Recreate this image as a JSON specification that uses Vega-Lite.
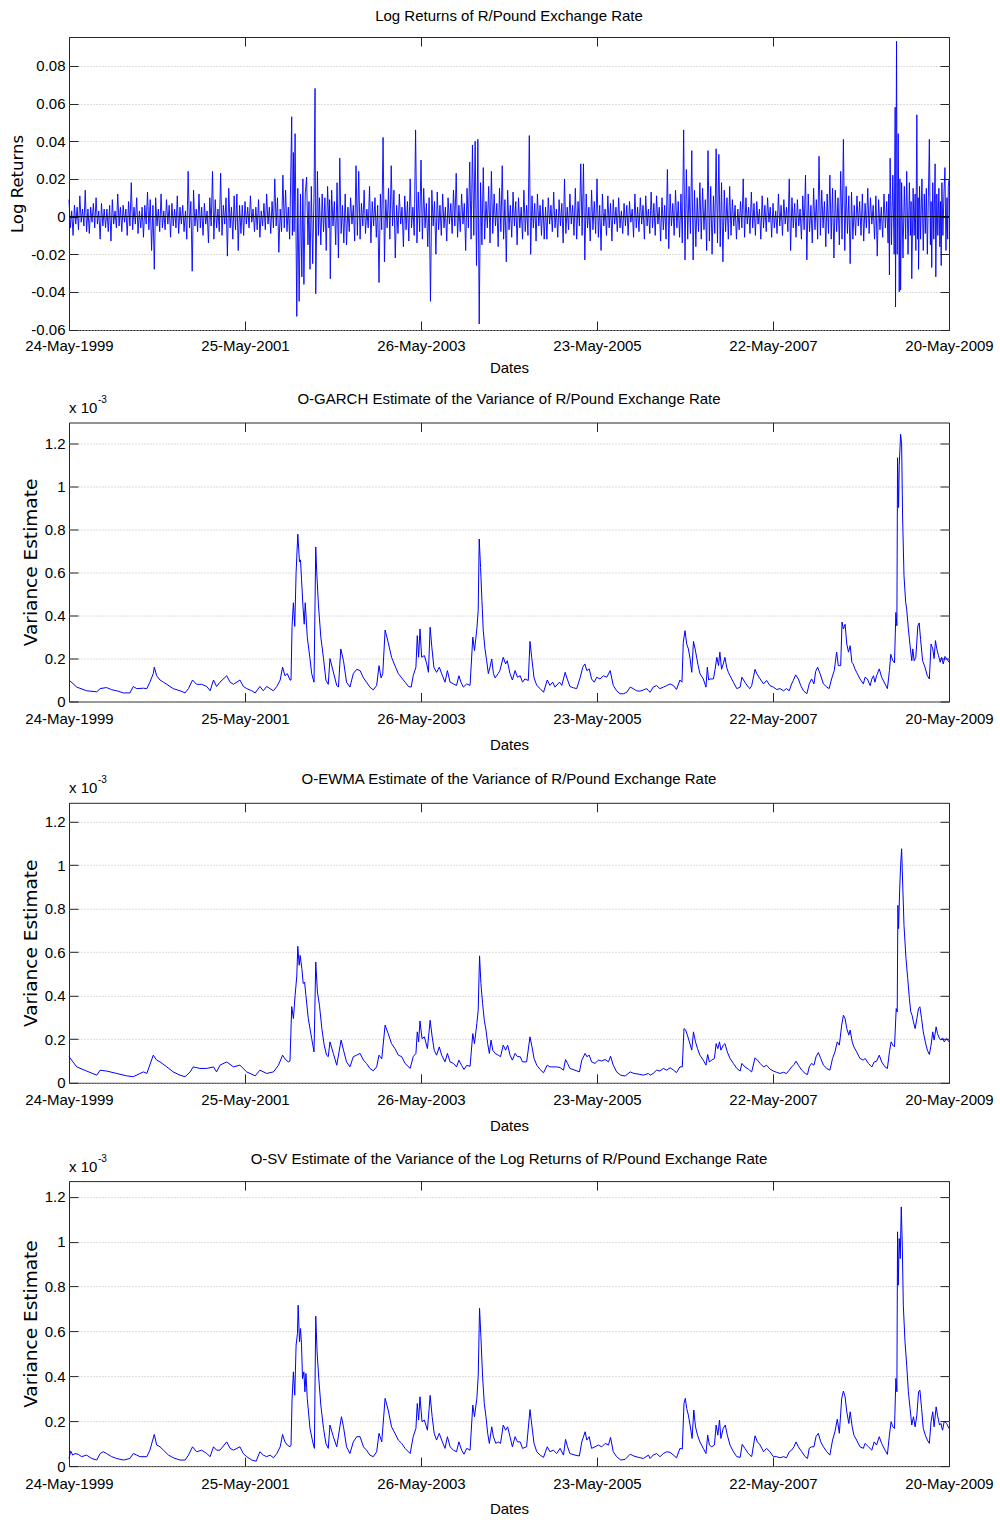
{
  "$schema": "https://vega.github.io/schema/vega-lite/v6.json",
  "background": "white",
  "padding": {"left": 9, "top": 8, "right": 3, "bottom": 5},
  "config": {
    "font": "Liberation Sans",
    "view": {"stroke": "#262626", "strokeWidth": 1},
    "axis": {
      "labelFont": "Liberation Sans", "labelFontSize": 15, "labelColor": "#000",
      "titleFontWeight": "normal", "titleColor": "#000",
      "domain": false, "grid": false, "tickColor": "#262626", "tickSize": -9, "tickWidth": 1,
      "labelOverlap": false, "labelFlush": false, "labelBound": false,
      "gridColor": "#b8b8b8", "gridDash": [1, 2], "gridWidth": 1
    },
    "axisX": {"titleFont": "Liberation Sans", "titleFontSize": 15, "labelPadding": 19, "titlePadding": 10.5},
    "axisY": {"titleFont": "DejaVu Sans", "titleFontSize": 18.5, "labelPadding": 13, "titlePadding": 4},
    "title": {"font": "Liberation Sans", "fontSize": 15, "fontWeight": "normal", "color": "#000", "frame": "group", "anchor": "middle", "baseline": "alphabetic"},
    "text": {"font": "Liberation Sans", "color": "#000"}
  },
  "datasets": {
    "ret": [
      {"t":0,"r":0.009},{"t":4,"r":-0.006},{"t":8,"r":0.003},{"t":12,"r":-0.010},{"t":16,"r":0.006},{"t":20,"r":-0.004},{"t":24,"r":0.005},{"t":28,"r":-0.007},{"t":32,"r":0.011},{"t":36,"r":-0.003},{"t":40,"r":0.004},{"t":44,"r":-0.005},{"t":48,"r":0.014},{"t":52,"r":-0.008},{"t":56,"r":0.004},{"t":60,"r":-0.009},{"t":64,"r":0.005},{"t":68,"r":-0.003},{"t":72,"r":0.007},{"t":76,"r":-0.006},{"t":80,"r":0.010},{"t":84,"r":-0.004},{"t":88,"r":0.003},{"t":92,"r":-0.012},{"t":96,"r":0.007},{"t":100,"r":-0.005},{"t":104,"r":0.004},{"t":108,"r":-0.006},{"t":112,"r":0.004},{"t":116,"r":-0.008},{"t":120,"r":0.006},{"t":124,"r":-0.013},{"t":128,"r":0.009},{"t":132,"r":-0.004},{"t":136,"r":0.003},{"t":140,"r":-0.006},{"t":144,"r":0.012},{"t":148,"r":-0.005},{"t":152,"r":0.005},{"t":156,"r":-0.008},{"t":160,"r":0.006},{"t":164,"r":-0.003},{"t":168,"r":0.004},{"t":172,"r":-0.010},{"t":176,"r":0.008},{"t":180,"r":-0.005},{"t":184,"r":0.018},{"t":188,"r":-0.007},{"t":192,"r":0.005},{"t":196,"r":-0.004},{"t":200,"r":0.010},{"t":204,"r":-0.009},{"t":208,"r":0.003},{"t":212,"r":-0.006},{"t":216,"r":0.005},{"t":220,"r":-0.011},{"t":224,"r":0.006},{"t":228,"r":-0.004},{"t":232,"r":0.013},{"t":236,"r":-0.007},{"t":240,"r":0.009},{"t":244,"r":-0.018},{"t":248,"r":0.006},{"t":252,"r":-0.028},
      {"t":256,"r":0.010},{"t":260,"r":-0.005},{"t":264,"r":0.004},{"t":268,"r":-0.008},{"t":272,"r":0.012},{"t":276,"r":-0.006},{"t":280,"r":0.003},{"t":284,"r":-0.007},{"t":288,"r":0.009},{"t":292,"r":-0.004},{"t":296,"r":0.006},{"t":300,"r":-0.011},{"t":304,"r":0.007},{"t":308,"r":-0.005},{"t":312,"r":0.004},{"t":316,"r":-0.006},{"t":320,"r":0.011},{"t":324,"r":-0.009},{"t":328,"r":0.005},{"t":332,"r":-0.004},{"t":336,"r":0.006},{"t":340,"r":-0.008},{"t":344,"r":0.003},{"t":348,"r":-0.012},{"t":352,"r":0.024},{"t":356,"r":-0.006},{"t":360,"r":0.008},{"t":364,"r":-0.029},{"t":368,"r":0.014},{"t":372,"r":-0.005},{"t":376,"r":0.004},{"t":380,"r":-0.008},{"t":384,"r":0.012},{"t":388,"r":-0.006},{"t":392,"r":0.005},{"t":396,"r":-0.010},{"t":400,"r":0.007},{"t":404,"r":-0.004},{"t":408,"r":0.003},{"t":412,"r":-0.014},{"t":416,"r":0.010},{"t":420,"r":-0.005},{"t":424,"r":0.024},{"t":428,"r":-0.012},{"t":432,"r":0.009},{"t":436,"r":-0.006},{"t":440,"r":0.004},{"t":444,"r":-0.008},{"t":448,"r":0.023},{"t":452,"r":-0.010},{"t":456,"r":0.006},{"t":460,"r":-0.004},{"t":464,"r":0.010},{"t":468,"r":-0.021},{"t":472,"r":0.015},{"t":476,"r":-0.006},{"t":480,"r":0.005},{"t":484,"r":-0.012},{"t":488,"r":0.011},{"t":492,"r":-0.007},{"t":496,"r":0.012},{"t":500,"r":-0.018},{"t":504,"r":0.006},{"t":508,"r":-0.009},
      {"t":512,"r":0.006},{"t":516,"r":-0.010},{"t":520,"r":0.008},{"t":524,"r":-0.004},{"t":528,"r":0.005},{"t":532,"r":-0.006},{"t":536,"r":0.011},{"t":540,"r":-0.003},{"t":544,"r":0.004},{"t":548,"r":-0.008},{"t":552,"r":0.005},{"t":556,"r":-0.007},{"t":560,"r":0.009},{"t":564,"r":-0.011},{"t":568,"r":0.003},{"t":572,"r":-0.005},{"t":576,"r":0.007},{"t":580,"r":-0.007},{"t":584,"r":0.012},{"t":588,"r":-0.004},{"t":592,"r":0.005},{"t":596,"r":-0.009},{"t":600,"r":0.008},{"t":604,"r":-0.006},{"t":608,"r":0.020},{"t":612,"r":-0.005},{"t":616,"r":0.010},{"t":620,"r":-0.019},{"t":624,"r":0.004},{"t":628,"r":-0.008},{"t":632,"r":0.022},{"t":636,"r":-0.006},{"t":640,"r":0.014},{"t":644,"r":-0.008},{"t":648,"r":0.005},{"t":652,"r":-0.012},
      {"t":658,"r":0.053},{"t":660,"r":-0.010},{"t":663,"r":0.034},{"t":665,"r":-0.008},{"t":668,"r":0.044},{"t":673,"r":-0.053},{"t":676,"r":0.015},{"t":680,"r":-0.045},{"t":684,"r":0.012},{"t":688,"r":-0.032},{"t":691,"r":0.020},{"t":694,"r":-0.036},{"t":698,"r":0.012},{"t":702,"r":0.021},{"t":706,"r":-0.015},{"t":709,"r":0.008},{"t":712,"r":-0.028},{"t":716,"r":0.016},{"t":720,"r":-0.025},{"t":724,"r":0.012},{"t":727,"r":0.068},{"t":729,"r":-0.041},{"t":734,"r":0.024},{"t":737,"r":-0.010},{"t":740,"r":0.010},{"t":744,"r":-0.015},{"t":748,"r":0.012},{"t":752,"r":-0.008},{"t":756,"r":0.010},{"t":760,"r":-0.018},{"t":764,"r":0.016},{"t":768,"r":-0.006},{"t":770,"r":0.009},{"t":772,"r":-0.033},{"t":776,"r":0.014},{"t":780,"r":-0.005},{"t":784,"r":0.008},{"t":788,"r":-0.015},{"t":792,"r":0.018},{"t":796,"r":-0.022},{"t":800,"r":0.031},{"t":804,"r":-0.009},{"t":808,"r":0.006},{"t":812,"r":-0.014},
      {"t":816,"r":0.012},{"t":820,"r":-0.015},{"t":824,"r":0.005},{"t":828,"r":-0.008},{"t":832,"r":0.010},{"t":836,"r":-0.004},{"t":840,"r":0.006},{"t":844,"r":-0.013},{"t":848,"r":0.027},{"t":852,"r":-0.010},{"t":856,"r":0.024},{"t":860,"r":-0.012},{"t":864,"r":0.007},{"t":868,"r":-0.005},{"t":872,"r":0.014},{"t":876,"r":-0.009},{"t":880,"r":0.004},{"t":884,"r":-0.006},{"t":888,"r":0.016},{"t":892,"r":-0.014},{"t":896,"r":0.008},{"t":900,"r":-0.005},{"t":904,"r":0.010},{"t":908,"r":-0.011},{"t":912,"r":0.006},{"t":916,"r":-0.035},{"t":920,"r":0.012},{"t":924,"r":-0.007},{"t":928,"r":0.042},{"t":932,"r":-0.024},{"t":936,"r":0.009},{"t":940,"r":-0.006},{"t":944,"r":0.015},{"t":948,"r":-0.012},{"t":952,"r":0.027},{"t":956,"r":-0.005},{"t":960,"r":0.014},{"t":964,"r":-0.022},{"t":968,"r":0.006},{"t":972,"r":-0.009},{"t":976,"r":0.012},{"t":980,"r":-0.004},{"t":984,"r":0.005},{"t":988,"r":-0.016},{"t":992,"r":0.011},{"t":996,"r":-0.007},{"t":1000,"r":0.008},{"t":1004,"r":-0.013},{"t":1008,"r":0.020},{"t":1012,"r":-0.006},{"t":1016,"r":0.005},{"t":1020,"r":-0.010},{"t":1024,"r":0.046},{"t":1028,"r":-0.014},{"t":1032,"r":0.013},{"t":1036,"r":-0.008},{"t":1040,"r":0.030},{"t":1044,"r":-0.012},{"t":1048,"r":0.015},{"t":1052,"r":-0.006},{"t":1056,"r":0.007},{"t":1060,"r":-0.016},{"t":1064,"r":0.010},{"t":1068,"r":-0.045},{"t":1072,"r":0.014},{"t":1076,"r":-0.005},{"t":1080,"r":0.008},{"t":1084,"r":-0.020},{"t":1088,"r":0.013},{"t":1092,"r":-0.007},{"t":1096,"r":0.006},{"t":1100,"r":-0.010},
      {"t":1104,"r":0.012},{"t":1108,"r":-0.006},{"t":1112,"r":0.005},{"t":1116,"r":-0.013},{"t":1120,"r":0.010},{"t":1124,"r":-0.004},{"t":1128,"r":0.007},{"t":1132,"r":-0.009},{"t":1136,"r":0.014},{"t":1140,"r":-0.005},{"t":1144,"r":0.023},{"t":1148,"r":-0.011},{"t":1152,"r":0.006},{"t":1156,"r":-0.008},{"t":1160,"r":0.012},{"t":1164,"r":-0.004},{"t":1168,"r":0.007},{"t":1172,"r":-0.018},{"t":1176,"r":0.015},{"t":1180,"r":-0.006},{"t":1184,"r":0.029},{"t":1188,"r":-0.012},{"t":1192,"r":0.038},{"t":1196,"r":-0.010},{"t":1200,"r":0.040},{"t":1204,"r":-0.026},{"t":1208,"r":0.041},{"t":1212,"r":-0.057},{"t":1216,"r":0.018},{"t":1220,"r":-0.015},{"t":1224,"r":0.026},{"t":1228,"r":-0.012},{"t":1232,"r":0.008},{"t":1236,"r":-0.006},{"t":1240,"r":0.016},{"t":1244,"r":-0.014},{"t":1248,"r":0.024},{"t":1252,"r":-0.009},{"t":1256,"r":0.012},{"t":1260,"r":-0.005},{"t":1264,"r":0.007},{"t":1268,"r":-0.016},{"t":1272,"r":0.015},{"t":1276,"r":-0.008},{"t":1280,"r":0.027},{"t":1284,"r":-0.012},{"t":1288,"r":0.009},{"t":1292,"r":-0.024},{"t":1296,"r":0.014},{"t":1300,"r":-0.007},{"t":1304,"r":0.006},{"t":1308,"r":-0.011},{"t":1312,"r":0.013},{"t":1316,"r":-0.005},{"t":1320,"r":0.008},{"t":1324,"r":-0.015},{"t":1328,"r":0.010},{"t":1332,"r":-0.006},{"t":1336,"r":0.005},{"t":1340,"r":-0.012},{"t":1344,"r":0.014},{"t":1348,"r":-0.008},{"t":1352,"r":0.006},{"t":1356,"r":-0.010},{"t":1360,"r":0.043},{"t":1364,"r":-0.020},{"t":1368,"r":0.011},{"t":1372,"r":-0.006},{"t":1376,"r":0.007},{"t":1380,"r":-0.013},{"t":1384,"r":0.012},{"t":1388,"r":-0.005},{"t":1392,"r":0.006},{"t":1396,"r":-0.010},{"t":1400,"r":0.009},{"t":1404,"r":-0.012},
      {"t":1408,"r":0.005},{"t":1412,"r":-0.012},{"t":1416,"r":0.010},{"t":1420,"r":-0.004},{"t":1424,"r":0.006},{"t":1428,"r":-0.008},{"t":1432,"r":0.013},{"t":1436,"r":-0.006},{"t":1440,"r":0.004},{"t":1444,"r":-0.011},{"t":1448,"r":0.009},{"t":1452,"r":-0.005},{"t":1456,"r":0.007},{"t":1460,"r":-0.014},{"t":1464,"r":0.020},{"t":1468,"r":-0.009},{"t":1472,"r":0.005},{"t":1476,"r":-0.007},{"t":1480,"r":0.012},{"t":1484,"r":-0.004},{"t":1488,"r":0.006},{"t":1492,"r":-0.010},{"t":1496,"r":0.015},{"t":1500,"r":-0.012},{"t":1504,"r":0.008},{"t":1508,"r":-0.005},{"t":1512,"r":0.028},{"t":1516,"r":-0.010},{"t":1520,"r":0.028},{"t":1524,"r":-0.023},{"t":1528,"r":0.012},{"t":1532,"r":-0.006},{"t":1536,"r":0.005},{"t":1540,"r":-0.013},{"t":1544,"r":0.014},{"t":1548,"r":-0.007},{"t":1552,"r":0.008},{"t":1556,"r":-0.009},{"t":1560,"r":0.020},{"t":1564,"r":-0.011},{"t":1568,"r":0.006},{"t":1572,"r":-0.018},{"t":1576,"r":0.012},{"t":1580,"r":-0.005},{"t":1584,"r":0.004},{"t":1588,"r":-0.010},{"t":1592,"r":0.011},{"t":1596,"r":-0.006},{"t":1600,"r":0.007},{"t":1604,"r":-0.013},{"t":1608,"r":0.009},{"t":1612,"r":-0.004},{"t":1616,"r":0.005},{"t":1620,"r":-0.008},{"t":1624,"r":0.010},{"t":1628,"r":-0.006},{"t":1632,"r":0.003},{"t":1636,"r":-0.009},{"t":1640,"r":0.007},{"t":1644,"r":-0.005},{"t":1648,"r":0.006},{"t":1652,"r":-0.010},{"t":1656,"r":0.008},{"t":1660,"r":-0.003},{"t":1664,"r":0.004},{"t":1668,"r":-0.011},{"t":1672,"r":0.012},{"t":1676,"r":-0.006},{"t":1680,"r":0.005},{"t":1684,"r":-0.008},{"t":1688,"r":0.010},{"t":1692,"r":-0.004},{"t":1696,"r":0.006},{"t":1700,"r":-0.012},{"t":1704,"r":0.011},{"t":1708,"r":-0.005},{"t":1712,"r":0.004},{"t":1716,"r":-0.009},{"t":1720,"r":0.013},{"t":1724,"r":-0.006},{"t":1728,"r":0.007},{"t":1732,"r":-0.010},{"t":1736,"r":0.011},{"t":1740,"r":-0.004},{"t":1744,"r":0.005},{"t":1748,"r":-0.013},{"t":1752,"r":0.010},{"t":1756,"r":-0.007},{"t":1760,"r":0.006},{"t":1764,"r":-0.012},{"t":1768,"r":0.025},{"t":1772,"r":-0.017},{"t":1776,"r":0.012},{"t":1780,"r":-0.005},{"t":1784,"r":0.007},{"t":1788,"r":-0.010},{"t":1792,"r":0.014},{"t":1796,"r":-0.006},
      {"t":1800,"r":0.008},{"t":1804,"r":-0.011},{"t":1808,"r":0.012},{"t":1812,"r":-0.014},{"t":1816,"r":0.046},{"t":1820,"r":-0.023},{"t":1824,"r":0.025},{"t":1828,"r":-0.012},{"t":1832,"r":0.016},{"t":1836,"r":-0.009},{"t":1840,"r":0.035},{"t":1844,"r":-0.023},{"t":1848,"r":0.014},{"t":1852,"r":-0.016},{"t":1856,"r":0.010},{"t":1860,"r":-0.008},{"t":1864,"r":0.018},{"t":1868,"r":-0.012},{"t":1872,"r":0.015},{"t":1876,"r":-0.007},{"t":1880,"r":0.009},{"t":1884,"r":-0.018},{"t":1888,"r":0.035},{"t":1892,"r":-0.013},{"t":1896,"r":0.016},{"t":1900,"r":-0.020},{"t":1904,"r":0.011},{"t":1908,"r":-0.009},{"t":1912,"r":0.036},{"t":1916,"r":-0.014},{"t":1920,"r":0.033},{"t":1924,"r":-0.016},{"t":1928,"r":0.018},{"t":1932,"r":-0.024},{"t":1936,"r":0.014},{"t":1940,"r":-0.008},{"t":1944,"r":0.010},{"t":1948,"r":-0.012},{"t":1952,"r":0.016},{"t":1956,"r":-0.010},
      {"t":1960,"r":0.009},{"t":1964,"r":-0.005},{"t":1968,"r":0.006},{"t":1972,"r":-0.012},{"t":1976,"r":0.004},{"t":1980,"r":-0.007},{"t":1984,"r":0.008},{"t":1988,"r":-0.006},{"t":1992,"r":0.020},{"t":1996,"r":-0.011},{"t":2000,"r":0.010},{"t":2004,"r":-0.004},{"t":2008,"r":0.005},{"t":2012,"r":-0.009},{"t":2016,"r":0.013},{"t":2020,"r":-0.006},{"t":2024,"r":0.007},{"t":2028,"r":-0.010},{"t":2032,"r":0.008},{"t":2036,"r":-0.004},{"t":2040,"r":0.004},{"t":2044,"r":-0.012},{"t":2048,"r":0.011},{"t":2052,"r":-0.006},{"t":2056,"r":0.006},{"t":2060,"r":-0.008},{"t":2064,"r":0.010},{"t":2068,"r":-0.003},{"t":2072,"r":0.005},{"t":2076,"r":-0.011},{"t":2080,"r":0.007},{"t":2084,"r":-0.006},{"t":2088,"r":0.003},{"t":2092,"r":-0.009},{"t":2096,"r":0.012},{"t":2100,"r":-0.005},{"t":2104,"r":0.006},{"t":2108,"r":-0.010},{"t":2112,"r":0.009},{"t":2116,"r":-0.004},{"t":2120,"r":0.005},{"t":2124,"r":-0.008},{"t":2128,"r":0.020},{"t":2132,"r":-0.018},{"t":2136,"r":0.010},{"t":2140,"r":-0.006},{"t":2144,"r":0.007},{"t":2148,"r":-0.011},{"t":2152,"r":0.009},{"t":2156,"r":-0.005},{"t":2160,"r":0.004},{"t":2164,"r":-0.012},{"t":2168,"r":0.011},{"t":2172,"r":-0.007},
      {"t":2176,"r":0.022},{"t":2180,"r":-0.023},{"t":2184,"r":0.012},{"t":2188,"r":-0.008},{"t":2192,"r":0.006},{"t":2196,"r":-0.014},{"t":2200,"r":0.015},{"t":2204,"r":-0.007},{"t":2208,"r":0.009},{"t":2212,"r":-0.012},{"t":2216,"r":0.032},{"t":2220,"r":-0.010},{"t":2224,"r":0.014},{"t":2228,"r":-0.006},{"t":2232,"r":0.008},{"t":2236,"r":-0.016},{"t":2240,"r":0.012},{"t":2244,"r":-0.009},{"t":2248,"r":0.022},{"t":2252,"r":-0.012},{"t":2256,"r":0.015},{"t":2260,"r":-0.022},{"t":2264,"r":0.014},{"t":2268,"r":-0.008},{"t":2272,"r":0.010},{"t":2276,"r":-0.015},{"t":2280,"r":0.024},{"t":2284,"r":-0.012},{"t":2288,"r":0.041},{"t":2292,"r":-0.018},{"t":2296,"r":0.016},{"t":2300,"r":-0.009},{"t":2304,"r":0.011},{"t":2308,"r":-0.025},{"t":2312,"r":0.013},{"t":2316,"r":-0.012},
      {"t":2320,"r":0.006},{"t":2324,"r":-0.010},{"t":2328,"r":0.011},{"t":2332,"r":-0.005},{"t":2336,"r":0.008},{"t":2340,"r":-0.010},{"t":2344,"r":0.012},{"t":2348,"r":-0.013},{"t":2352,"r":0.007},{"t":2356,"r":-0.006},{"t":2360,"r":0.015},{"t":2364,"r":-0.009},{"t":2368,"r":0.010},{"t":2372,"r":-0.004},{"t":2376,"r":0.006},{"t":2380,"r":-0.012},{"t":2384,"r":0.011},{"t":2388,"r":-0.021},{"t":2392,"r":0.009},{"t":2396,"r":-0.007},{"t":2400,"r":0.005},{"t":2404,"r":-0.011},{"t":2408,"r":0.012},{"t":2412,"r":-0.006},{"t":2416,"r":0.008},{"t":2420,"r":-0.014},
      {"t":2422,"r":0.012},{"t":2424,"r":-0.031},{"t":2426,"r":0.031},{"t":2430,"r":-0.015},{"t":2434,"r":0.022},{"t":2438,"r":-0.020},{"t":2441,"r":0.058},{"t":2442,"r":-0.048},{"t":2445,"r":0.093},{"t":2447,"r":-0.020},{"t":2450,"r":0.044},{"t":2453,"r":-0.040},{"t":2455,"r":0.020},{"t":2457,"r":-0.039},{"t":2460,"r":0.018},{"t":2464,"r":-0.022},{"t":2468,"r":0.016},{"t":2472,"r":-0.012},{"t":2475,"r":0.024},{"t":2479,"r":-0.020},{"t":2483,"r":0.018},{"t":2486,"r":-0.010},{"t":2488,"r":0.008},{"t":2490,"r":-0.033},{"t":2494,"r":0.015},{"t":2497,"r":-0.010},{"t":2500,"r":0.012},{"t":2502,"r":-0.018},{"t":2505,"r":0.054},{"t":2507,"r":-0.012},{"t":2509,"r":0.010},{"t":2510,"r":-0.028},{"t":2513,"r":0.016},{"t":2516,"r":-0.012},{"t":2520,"r":0.020},{"t":2524,"r":-0.018},{"t":2527,"r":0.012},{"t":2530,"r":-0.009},{"t":2533,"r":0.015},{"t":2536,"r":-0.020},{"t":2539,"r":0.010},{"t":2542,"r":0.041},{"t":2545,"r":-0.015},{"t":2547,"r":0.008},{"t":2549,"r":-0.027},{"t":2552,"r":0.018},{"t":2555,"r":-0.012},{"t":2559,"r":0.028},{"t":2561,"r":-0.032},{"t":2564,"r":0.012},{"t":2567,"r":-0.010},{"t":2570,"r":0.015},{"t":2573,"r":-0.016},{"t":2575,"r":0.008},{"t":2577,"r":-0.026},{"t":2579,"r":0.018},{"t":2582,"r":-0.010},{"t":2585,"r":0.012},{"t":2588,"r":0.026},{"t":2591,"r":-0.018},{"t":2594,"r":0.010},{"t":2596,"r":-0.012},{"t":2598,"r":0.016},{"t":2600,"r":0.020}
    ],
    "garch": [
      {"t":0,"v":0.10},{"t":23,"v":0.067},{"t":52,"v":0.05},{"t":82,"v":0.045},{"t":92,"v":0.06},{"t":111,"v":0.065},{"t":126,"v":0.055},{"t":141,"v":0.05},{"t":161,"v":0.04},{"t":180,"v":0.04},{"t":190,"v":0.07},{"t":200,"v":0.06},{"t":220,"v":0.062},{"t":230,"v":0.06},{"t":239,"v":0.09},{"t":249,"v":0.13},{"t":252,"v":0.16},{"t":259,"v":0.12},{"t":269,"v":0.1},{"t":279,"v":0.09},{"t":289,"v":0.08},{"t":308,"v":0.06},{"t":328,"v":0.05},{"t":343,"v":0.04},{"t":353,"v":0.06},{"t":365,"v":0.10},{"t":377,"v":0.08},{"t":392,"v":0.08},{"t":407,"v":0.07},{"t":417,"v":0.05},{"t":427,"v":0.10},{"t":436,"v":0.07},{"t":446,"v":0.09},{"t":466,"v":0.12},{"t":476,"v":0.09},{"t":486,"v":0.08},{"t":505,"v":0.10},{"t":515,"v":0.07},{"t":525,"v":0.06},{"t":540,"v":0.05},{"t":550,"v":0.04},{"t":564,"v":0.07},{"t":574,"v":0.05},{"t":584,"v":0.07},{"t":594,"v":0.06},{"t":604,"v":0.05},{"t":614,"v":0.07},{"t":624,"v":0.10},{"t":631,"v":0.16},{"t":638,"v":0.12},{"t":645,"v":0.13},{"t":653,"v":0.10},{"t":656,"v":0.10},{"t":659,"v":0.35},{"t":663,"v":0.46},{"t":667,"v":0.35},{"t":671,"v":0.60},{"t":676,"v":0.78},{"t":681,"v":0.65},{"t":684,"v":0.66},{"t":687,"v":0.57},{"t":691,"v":0.45},{"t":695,"v":0.36},{"t":698,"v":0.46},{"t":704,"v":0.30},{"t":712,"v":0.20},{"t":717,"v":0.13},{"t":724,"v":0.09},{"t":729,"v":0.72},{"t":732,"v":0.60},{"t":737,"v":0.45},{"t":744,"v":0.30},{"t":752,"v":0.20},{"t":759,"v":0.10},{"t":766,"v":0.08},
      {"t":771,"v":0.20},{"t":791,"v":0.075},{"t":796,"v":0.067},{"t":803,"v":0.245},{"t":811,"v":0.19},{"t":820,"v":0.09},{"t":830,"v":0.067},{"t":840,"v":0.13},{"t":850,"v":0.15},{"t":860,"v":0.144},{"t":870,"v":0.11},{"t":879,"v":0.09},{"t":889,"v":0.067},{"t":899,"v":0.054},{"t":909,"v":0.075},{"t":916,"v":0.167},{"t":922,"v":0.11},{"t":927,"v":0.13},{"t":934,"v":0.333},{"t":943,"v":0.276},{"t":953,"v":0.206},{"t":963,"v":0.167},{"t":973,"v":0.13},{"t":983,"v":0.11},{"t":993,"v":0.09},{"t":1003,"v":0.07},{"t":1011,"v":0.067},{"t":1017,"v":0.12},{"t":1025,"v":0.16},{"t":1029,"v":0.307},{"t":1033,"v":0.206},{"t":1037,"v":0.338},{"t":1042,"v":0.206},{"t":1050,"v":0.214},{"t":1057,"v":0.175},{"t":1062,"v":0.136},{"t":1067,"v":0.346},{"t":1072,"v":0.253},{"t":1078,"v":0.16},{"t":1086,"v":0.136},{"t":1094,"v":0.16},{"t":1101,"v":0.13},{"t":1111,"v":0.09},{"t":1118,"v":0.144},{"t":1126,"v":0.09},{"t":1136,"v":0.082},{"t":1145,"v":0.075},{"t":1152,"v":0.12},{"t":1158,"v":0.09},{"t":1165,"v":0.067},{"t":1175,"v":0.082},{"t":1185,"v":0.075},{"t":1193,"v":0.30},{"t":1198,"v":0.237},{"t":1205,"v":0.338},{"t":1209,"v":0.423},{"t":1212,"v":0.757},{"t":1216,"v":0.625},{"t":1220,"v":0.47},{"t":1224,"v":0.33},{"t":1229,"v":0.245},{"t":1234,"v":0.19},{"t":1239,"v":0.13},{"t":1244,"v":0.16},{"t":1249,"v":0.198},{"t":1254,"v":0.13},{"t":1259,"v":0.11},{"t":1268,"v":0.13},{"t":1273,"v":0.144},{"t":1283,"v":0.206},{"t":1290,"v":0.175},{"t":1295,"v":0.19},{"t":1303,"v":0.13},{"t":1310,"v":0.10},{"t":1318,"v":0.144},{"t":1325,"v":0.113},{"t":1333,"v":0.12},{"t":1340,"v":0.09},{"t":1347,"v":0.105},{"t":1357,"v":0.098},{"t":1362,"v":0.28},{"t":1367,"v":0.206},{"t":1374,"v":0.11},{"t":1382,"v":0.075},{"t":1392,"v":0.06},{"t":1402,"v":0.043},{"t":1413,"v":0.10},{"t":1421,"v":0.075},{"t":1429,"v":0.09},{"t":1436,"v":0.067},{"t":1449,"v":0.09},{"t":1456,"v":0.075},{"t":1466,"v":0.136},{"t":1472,"v":0.105},{"t":1480,"v":0.07},{"t":1490,"v":0.064},{"t":1500,"v":0.06},{"t":1510,"v":0.11},{"t":1518,"v":0.16},{"t":1524,"v":0.175},{"t":1530,"v":0.144},{"t":1537,"v":0.152},{"t":1544,"v":0.105},{"t":1552,"v":0.09},{"t":1559,"v":0.113},{"t":1569,"v":0.105},{"t":1579,"v":0.12},{"t":1589,"v":0.113},{"t":1599,"v":0.144},{"t":1608,"v":0.075},{"t":1618,"v":0.05},{"t":1628,"v":0.036},{"t":1638,"v":0.036},{"t":1648,"v":0.043},{"t":1658,"v":0.067},{"t":1667,"v":0.06},{"t":1677,"v":0.05},{"t":1687,"v":0.048},{"t":1697,"v":0.054},{"t":1707,"v":0.06},{"t":1712,"v":0.05},
      {"t":1717,"v":0.043},{"t":1726,"v":0.067},{"t":1736,"v":0.074},{"t":1746,"v":0.06},{"t":1756,"v":0.067},{"t":1766,"v":0.074},{"t":1776,"v":0.082},{"t":1786,"v":0.074},{"t":1795,"v":0.056},{"t":1805,"v":0.10},{"t":1811,"v":0.09},{"t":1815,"v":0.276},{"t":1820,"v":0.33},{"t":1825,"v":0.268},{"t":1830,"v":0.245},{"t":1835,"v":0.20},{"t":1840,"v":0.136},{"t":1845,"v":0.28},{"t":1850,"v":0.245},{"t":1855,"v":0.20},{"t":1859,"v":0.167},{"t":1864,"v":0.13},{"t":1874,"v":0.105},{"t":1882,"v":0.067},{"t":1886,"v":0.16},{"t":1890,"v":0.10},{"t":1894,"v":0.105},{"t":1904,"v":0.105},{"t":1909,"v":0.15},{"t":1914,"v":0.206},{"t":1919,"v":0.167},{"t":1923,"v":0.23},{"t":1928,"v":0.15},{"t":1933,"v":0.175},{"t":1938,"v":0.206},{"t":1943,"v":0.16},{"t":1948,"v":0.136},{"t":1953,"v":0.12},{"t":1963,"v":0.09},{"t":1973,"v":0.06},{"t":1983,"v":0.067},{"t":1988,"v":0.113},{"t":1997,"v":0.09},{"t":2007,"v":0.067},{"t":2012,"v":0.06},{"t":2017,"v":0.074},{"t":2027,"v":0.15},{"t":2032,"v":0.13},{"t":2042,"v":0.105},{"t":2052,"v":0.082},{"t":2061,"v":0.098},{"t":2071,"v":0.074},{"t":2081,"v":0.067},{"t":2091,"v":0.056},{"t":2101,"v":0.06},{"t":2111,"v":0.05},{"t":2120,"v":0.06},{"t":2128,"v":0.05},{"t":2135,"v":0.082},{"t":2140,"v":0.098},{"t":2147,"v":0.124},{"t":2155,"v":0.105},{"t":2162,"v":0.074},{"t":2170,"v":0.05},{"t":2180,"v":0.036},{"t":2187,"v":0.082},{"t":2194,"v":0.105},{"t":2201,"v":0.082},{"t":2206,"v":0.14},{"t":2212,"v":0.16},{"t":2219,"v":0.13},{"t":2229,"v":0.082},{"t":2239,"v":0.067},{"t":2246,"v":0.06},{"t":2253,"v":0.105},{"t":2261,"v":0.144},{"t":2268,"v":0.23},{"t":2273,"v":0.167},{"t":2280,"v":0.167},{"t":2284,"v":0.37},{"t":2288,"v":0.338},{"t":2293,"v":0.36},{"t":2298,"v":0.268},{"t":2303,"v":0.23},{"t":2308,"v":0.26},{"t":2313,"v":0.183},{"t":2317,"v":0.175},{"t":2322,"v":0.152},{"t":2327,"v":0.136},{"t":2337,"v":0.105},{"t":2347,"v":0.082},{"t":2352,"v":0.113},{"t":2359,"v":0.105},{"t":2367,"v":0.074},{"t":2372,"v":0.105},{"t":2377,"v":0.12},{"t":2381,"v":0.09},{"t":2386,"v":0.12},{"t":2394,"v":0.152},{"t":2401,"v":0.113},{"t":2411,"v":0.082},{"t":2418,"v":0.06},{"t":2424,"v":0.144},{"t":2428,"v":0.22},{"t":2434,"v":0.19},{"t":2439,"v":0.18},{"t":2443,"v":0.415},{"t":2446,"v":0.353},{"t":2448,"v":1.136},{"t":2451,"v":0.904},{"t":2453,"v":1.10},{"t":2457,"v":1.245},{"t":2460,"v":1.20},{"t":2463,"v":0.85},{"t":2467,"v":0.586},{"t":2472,"v":0.462},{"t":2475,"v":0.43},{"t":2480,"v":0.338},{"t":2485,"v":0.26},{"t":2490,"v":0.19},{"t":2493,"v":0.245},{"t":2497,"v":0.19},{"t":2502,"v":0.206},{"t":2508,"v":0.353},{"t":2512,"v":0.366},{"t":2516,"v":0.29},{"t":2522,"v":0.19},{"t":2529,"v":0.16},{"t":2536,"v":0.12},{"t":2542,"v":0.105},{"t":2547,"v":0.268},{"t":2552,"v":0.245},{"t":2556,"v":0.20},{"t":2560,"v":0.284},{"t":2564,"v":0.245},{"t":2569,"v":0.214},{"t":2574,"v":0.183},{"t":2578,"v":0.206},{"t":2583,"v":0.175},{"t":2588,"v":0.21},{"t":2593,"v":0.20},{"t":2600,"v":0.183}
    ],
    "ewma": [
      {"t":0,"v":0.12},{"t":23,"v":0.073},{"t":52,"v":0.054},{"t":82,"v":0.035},{"t":92,"v":0.058},{"t":111,"v":0.054},{"t":141,"v":0.043},{"t":170,"v":0.032},{"t":190,"v":0.028},{"t":210,"v":0.043},{"t":220,"v":0.05},{"t":230,"v":0.043},{"t":249,"v":0.127},{"t":259,"v":0.104},{"t":269,"v":0.096},{"t":289,"v":0.073},{"t":308,"v":0.05},{"t":328,"v":0.035},{"t":343,"v":0.028},{"t":358,"v":0.05},{"t":367,"v":0.073},{"t":387,"v":0.066},{"t":407,"v":0.066},{"t":427,"v":0.073},{"t":436,"v":0.05},{"t":446,"v":0.081},{"t":466,"v":0.096},{"t":486,"v":0.073},{"t":505,"v":0.081},{"t":525,"v":0.05},{"t":550,"v":0.032},{"t":564,"v":0.058},{"t":584,"v":0.043},{"t":604,"v":0.05},{"t":619,"v":0.081},{"t":631,"v":0.127},{"t":638,"v":0.11},{"t":648,"v":0.096},{"t":653,"v":0.10},{"t":658,"v":0.35},{"t":663,"v":0.295},{"t":668,"v":0.40},{"t":673,"v":0.49},{"t":676,"v":0.627},{"t":680,"v":0.54},{"t":683,"v":0.585},{"t":688,"v":0.524},{"t":692,"v":0.456},{"t":696,"v":0.463},{"t":700,"v":0.40},{"t":707,"v":0.295},{"t":717,"v":0.203},{"t":724,"v":0.142},{"t":729,"v":0.555},{"t":734,"v":0.417},{"t":740,"v":0.356},{"t":747,"v":0.25},{"t":754,"v":0.173},{"t":761,"v":0.127},{"t":766,"v":0.12},
      {"t":771,"v":0.188},{"t":781,"v":0.135},{"t":791,"v":0.081},{"t":804,"v":0.196},{"t":811,"v":0.15},{"t":820,"v":0.096},{"t":830,"v":0.073},{"t":840,"v":0.12},{"t":850,"v":0.127},{"t":860,"v":0.135},{"t":870,"v":0.104},{"t":879,"v":0.089},{"t":889,"v":0.066},{"t":899,"v":0.055},{"t":909,"v":0.073},{"t":916,"v":0.127},{"t":924,"v":0.11},{"t":934,"v":0.265},{"t":943,"v":0.226},{"t":953,"v":0.18},{"t":963,"v":0.157},{"t":973,"v":0.127},{"t":983,"v":0.12},{"t":993,"v":0.089},{"t":1008,"v":0.066},{"t":1017,"v":0.12},{"t":1025,"v":0.135},{"t":1029,"v":0.234},{"t":1033,"v":0.188},{"t":1037,"v":0.284},{"t":1043,"v":0.203},{"t":1050,"v":0.211},{"t":1059,"v":0.157},{"t":1067,"v":0.287},{"t":1073,"v":0.211},{"t":1079,"v":0.15},{"t":1086,"v":0.127},{"t":1094,"v":0.165},{"t":1101,"v":0.127},{"t":1111,"v":0.096},{"t":1118,"v":0.135},{"t":1126,"v":0.096},{"t":1136,"v":0.089},{"t":1145,"v":0.073},{"t":1152,"v":0.104},{"t":1160,"v":0.08},{"t":1167,"v":0.061},{"t":1175,"v":0.08},{"t":1185,"v":0.076},{"t":1193,"v":0.226},{"t":1198,"v":0.18},{"t":1205,"v":0.272},{"t":1209,"v":0.333},{"t":1213,"v":0.583},{"t":1217,"v":0.456},{"t":1222,"v":0.364},{"t":1227,"v":0.287},{"t":1232,"v":0.242},{"t":1237,"v":0.18},{"t":1242,"v":0.135},{"t":1247,"v":0.196},{"t":1252,"v":0.15},{"t":1259,"v":0.135},{"t":1268,"v":0.127},{"t":1275,"v":0.12},{"t":1283,"v":0.173},{"t":1290,"v":0.15},{"t":1296,"v":0.173},{"t":1303,"v":0.127},{"t":1310,"v":0.104},{"t":1318,"v":0.135},{"t":1325,"v":0.12},{"t":1333,"v":0.12},{"t":1340,"v":0.096},{"t":1352,"v":0.096},{"t":1362,"v":0.211},{"t":1368,"v":0.165},{"t":1374,"v":0.112},{"t":1382,"v":0.081},{"t":1392,"v":0.061},{"t":1402,"v":0.046},{"t":1413,"v":0.081},{"t":1421,"v":0.073},{"t":1431,"v":0.073},{"t":1441,"v":0.073},{"t":1451,"v":0.07},{"t":1461,"v":0.058},{"t":1467,"v":0.107},{"t":1473,"v":0.089},{"t":1480,"v":0.066},{"t":1495,"v":0.058},{"t":1508,"v":0.05},{"t":1515,"v":0.104},{"t":1525,"v":0.135},{"t":1530,"v":0.12},{"t":1537,"v":0.127},{"t":1544,"v":0.096},{"t":1554,"v":0.089},{"t":1564,"v":0.104},{"t":1574,"v":0.1},{"t":1584,"v":0.107},{"t":1594,"v":0.096},{"t":1600,"v":0.122},{"t":1608,"v":0.081},{"t":1618,"v":0.05},{"t":1630,"v":0.035},{"t":1643,"v":0.031},{"t":1658,"v":0.05},{"t":1669,"v":0.043},{"t":1682,"v":0.04},{"t":1697,"v":0.035},{"t":1712,"v":0.043},
      {"t":1717,"v":0.035},{"t":1726,"v":0.043},{"t":1736,"v":0.058},{"t":1746,"v":0.054},{"t":1756,"v":0.066},{"t":1766,"v":0.058},{"t":1776,"v":0.069},{"t":1786,"v":0.058},{"t":1795,"v":0.047},{"t":1805,"v":0.073},{"t":1812,"v":0.073},{"t":1817,"v":0.249},{"t":1822,"v":0.242},{"t":1827,"v":0.219},{"t":1833,"v":0.188},{"t":1840,"v":0.15},{"t":1845,"v":0.234},{"t":1851,"v":0.188},{"t":1857,"v":0.157},{"t":1864,"v":0.127},{"t":1874,"v":0.104},{"t":1882,"v":0.081},{"t":1887,"v":0.13},{"t":1892,"v":0.096},{"t":1899,"v":0.104},{"t":1907,"v":0.112},{"t":1912,"v":0.18},{"t":1917,"v":0.157},{"t":1922,"v":0.188},{"t":1926,"v":0.15},{"t":1933,"v":0.173},{"t":1938,"v":0.18},{"t":1945,"v":0.142},{"t":1953,"v":0.112},{"t":1963,"v":0.089},{"t":1973,"v":0.066},{"t":1983,"v":0.054},{"t":1988,"v":0.089},{"t":1997,"v":0.073},{"t":2007,"v":0.063},{"t":2017,"v":0.05},{"t":2027,"v":0.115},{"t":2034,"v":0.104},{"t":2042,"v":0.089},{"t":2052,"v":0.073},{"t":2061,"v":0.081},{"t":2071,"v":0.063},{"t":2081,"v":0.054},{"t":2091,"v":0.048},{"t":2101,"v":0.043},{"t":2111,"v":0.048},{"t":2120,"v":0.043},{"t":2128,"v":0.058},{"t":2135,"v":0.073},{"t":2142,"v":0.084},{"t":2148,"v":0.099},{"t":2155,"v":0.081},{"t":2165,"v":0.058},{"t":2175,"v":0.043},{"t":2182,"v":0.038},{"t":2187,"v":0.073},{"t":2194,"v":0.089},{"t":2201,"v":0.081},{"t":2207,"v":0.119},{"t":2214,"v":0.139},{"t":2221,"v":0.112},{"t":2229,"v":0.081},{"t":2239,"v":0.066},{"t":2248,"v":0.058},{"t":2256,"v":0.112},{"t":2263,"v":0.142},{"t":2270,"v":0.188},{"t":2276,"v":0.173},{"t":2283,"v":0.265},{"t":2288,"v":0.31},{"t":2293,"v":0.295},{"t":2298,"v":0.249},{"t":2304,"v":0.219},{"t":2308,"v":0.242},{"t":2314,"v":0.188},{"t":2319,"v":0.165},{"t":2327,"v":0.142},{"t":2337,"v":0.112},{"t":2347,"v":0.104},{"t":2352,"v":0.112},{"t":2362,"v":0.089},{"t":2372,"v":0.073},{"t":2379,"v":0.096},{"t":2386,"v":0.099},{"t":2394,"v":0.127},{"t":2401,"v":0.096},{"t":2411,"v":0.073},{"t":2418,"v":0.066},{"t":2424,"v":0.142},{"t":2429,"v":0.188},{"t":2434,"v":0.173},{"t":2439,"v":0.165},{"t":2444,"v":0.341},{"t":2447,"v":0.325},{"t":2449,"v":0.815},{"t":2451,"v":0.708},{"t":2454,"v":0.876},{"t":2457,"v":0.998},{"t":2460,"v":1.075},{"t":2463,"v":0.922},{"t":2467,"v":0.723},{"t":2473,"v":0.57},{"t":2478,"v":0.479},{"t":2483,"v":0.387},{"t":2487,"v":0.326},{"t":2491,"v":0.31},{"t":2495,"v":0.28},{"t":2500,"v":0.249},{"t":2505,"v":0.295},{"t":2510,"v":0.341},{"t":2514,"v":0.349},{"t":2519,"v":0.295},{"t":2524,"v":0.234},{"t":2530,"v":0.188},{"t":2536,"v":0.15},{"t":2542,"v":0.13},{"t":2547,"v":0.173},{"t":2552,"v":0.234},{"t":2556,"v":0.196},{"t":2562,"v":0.257},{"t":2566,"v":0.226},{"t":2572,"v":0.203},{"t":2576,"v":0.196},{"t":2581,"v":0.206},{"t":2586,"v":0.188},{"t":2593,"v":0.203},{"t":2600,"v":0.188}
    ],
    "sv": [
      {"t":0,"v":0.034},{"t":5,"v":0.067},{"t":11,"v":0.049},{"t":18,"v":0.056},{"t":28,"v":0.052},{"t":37,"v":0.042},{"t":52,"v":0.049},{"t":67,"v":0.034},{"t":82,"v":0.027},{"t":92,"v":0.056},{"t":101,"v":0.064},{"t":111,"v":0.056},{"t":126,"v":0.042},{"t":141,"v":0.034},{"t":161,"v":0.027},{"t":180,"v":0.034},{"t":190,"v":0.056},{"t":200,"v":0.049},{"t":210,"v":0.042},{"t":230,"v":0.042},{"t":239,"v":0.071},{"t":252,"v":0.141},{"t":259,"v":0.094},{"t":269,"v":0.086},{"t":279,"v":0.071},{"t":294,"v":0.049},{"t":308,"v":0.037},{"t":328,"v":0.027},{"t":343,"v":0.027},{"t":353,"v":0.049},{"t":365,"v":0.086},{"t":377,"v":0.064},{"t":392,"v":0.071},{"t":407,"v":0.056},{"t":417,"v":0.042},{"t":427,"v":0.086},{"t":436,"v":0.071},{"t":446,"v":0.071},{"t":466,"v":0.108},{"t":476,"v":0.079},{"t":486,"v":0.071},{"t":505,"v":0.086},{"t":515,"v":0.056},{"t":525,"v":0.042},{"t":540,"v":0.027},{"t":553,"v":0.022},{"t":564,"v":0.064},{"t":574,"v":0.049},{"t":584,"v":0.042},{"t":594,"v":0.049},{"t":604,"v":0.037},{"t":614,"v":0.056},{"t":624,"v":0.086},{"t":631,"v":0.141},{"t":638,"v":0.108},{"t":645,"v":0.094},{"t":653,"v":0.086},{"t":656,"v":0.094},{"t":659,"v":0.294},{"t":663,"v":0.42},{"t":667,"v":0.316},{"t":671,"v":0.539},{"t":675,"v":0.591},{"t":677,"v":0.717},{"t":681,"v":0.554},{"t":684,"v":0.613},{"t":687,"v":0.539},{"t":690,"v":0.39},{"t":694,"v":0.42},{"t":697,"v":0.331},{"t":700,"v":0.413},{"t":704,"v":0.301},{"t":712,"v":0.168},{"t":720,"v":0.108},{"t":725,"v":0.079},{"t":729,"v":0.668},{"t":733,"v":0.509},{"t":738,"v":0.39},{"t":744,"v":0.272},{"t":752,"v":0.168},{"t":759,"v":0.101},{"t":766,"v":0.079},
      {"t":771,"v":0.183},{"t":781,"v":0.131},{"t":791,"v":0.086},{"t":805,"v":0.22},{"t":811,"v":0.175},{"t":820,"v":0.086},{"t":830,"v":0.056},{"t":840,"v":0.108},{"t":850,"v":0.131},{"t":860,"v":0.131},{"t":870,"v":0.086},{"t":879,"v":0.071},{"t":889,"v":0.049},{"t":899,"v":0.042},{"t":909,"v":0.064},{"t":916,"v":0.146},{"t":924,"v":0.108},{"t":934,"v":0.302},{"t":943,"v":0.25},{"t":953,"v":0.175},{"t":963,"v":0.146},{"t":973,"v":0.116},{"t":983,"v":0.101},{"t":993,"v":0.079},{"t":1008,"v":0.056},{"t":1017,"v":0.131},{"t":1025,"v":0.168},{"t":1029,"v":0.279},{"t":1033,"v":0.205},{"t":1037,"v":0.309},{"t":1043,"v":0.198},{"t":1050,"v":0.205},{"t":1059,"v":0.16},{"t":1067,"v":0.315},{"t":1073,"v":0.22},{"t":1079,"v":0.146},{"t":1086,"v":0.116},{"t":1094,"v":0.146},{"t":1101,"v":0.116},{"t":1111,"v":0.079},{"t":1118,"v":0.131},{"t":1126,"v":0.086},{"t":1136,"v":0.071},{"t":1145,"v":0.064},{"t":1152,"v":0.108},{"t":1160,"v":0.071},{"t":1167,"v":0.053},{"t":1175,"v":0.079},{"t":1185,"v":0.071},{"t":1193,"v":0.272},{"t":1198,"v":0.22},{"t":1205,"v":0.302},{"t":1209,"v":0.398},{"t":1213,"v":0.703},{"t":1217,"v":0.576},{"t":1222,"v":0.398},{"t":1227,"v":0.279},{"t":1232,"v":0.22},{"t":1237,"v":0.146},{"t":1242,"v":0.101},{"t":1249,"v":0.175},{"t":1254,"v":0.131},{"t":1261,"v":0.101},{"t":1268,"v":0.108},{"t":1275,"v":0.101},{"t":1283,"v":0.183},{"t":1290,"v":0.16},{"t":1296,"v":0.175},{"t":1303,"v":0.131},{"t":1310,"v":0.086},{"t":1318,"v":0.131},{"t":1325,"v":0.108},{"t":1333,"v":0.108},{"t":1340,"v":0.079},{"t":1352,"v":0.086},{"t":1362,"v":0.252},{"t":1368,"v":0.175},{"t":1374,"v":0.101},{"t":1382,"v":0.064},{"t":1392,"v":0.049},{"t":1402,"v":0.039},{"t":1413,"v":0.086},{"t":1421,"v":0.064},{"t":1431,"v":0.071},{"t":1441,"v":0.056},{"t":1451,"v":0.079},{"t":1461,"v":0.049},{"t":1467,"v":0.119},{"t":1473,"v":0.086},{"t":1480,"v":0.056},{"t":1495,"v":0.049},{"t":1508,"v":0.045},{"t":1515,"v":0.108},{"t":1525,"v":0.153},{"t":1530,"v":0.116},{"t":1537,"v":0.131},{"t":1544,"v":0.079},{"t":1554,"v":0.086},{"t":1564,"v":0.094},{"t":1574,"v":0.086},{"t":1584,"v":0.101},{"t":1594,"v":0.094},{"t":1600,"v":0.128},{"t":1608,"v":0.064},{"t":1618,"v":0.042},{"t":1630,"v":0.027},{"t":1643,"v":0.03},{"t":1658,"v":0.053},{"t":1669,"v":0.045},{"t":1682,"v":0.039},{"t":1697,"v":0.034},{"t":1712,"v":0.049},
      {"t":1717,"v":0.034},{"t":1726,"v":0.049},{"t":1736,"v":0.056},{"t":1746,"v":0.042},{"t":1756,"v":0.056},{"t":1766,"v":0.064},{"t":1776,"v":0.061},{"t":1786,"v":0.049},{"t":1795,"v":0.037},{"t":1805,"v":0.079},{"t":1812,"v":0.076},{"t":1817,"v":0.279},{"t":1821,"v":0.302},{"t":1825,"v":0.257},{"t":1830,"v":0.227},{"t":1835,"v":0.183},{"t":1841,"v":0.123},{"t":1846,"v":0.25},{"t":1851,"v":0.175},{"t":1857,"v":0.138},{"t":1864,"v":0.108},{"t":1874,"v":0.079},{"t":1882,"v":0.056},{"t":1887,"v":0.138},{"t":1892,"v":0.094},{"t":1899,"v":0.086},{"t":1907,"v":0.094},{"t":1912,"v":0.183},{"t":1917,"v":0.138},{"t":1922,"v":0.205},{"t":1926,"v":0.123},{"t":1933,"v":0.168},{"t":1939,"v":0.183},{"t":1945,"v":0.138},{"t":1953,"v":0.094},{"t":1963,"v":0.064},{"t":1973,"v":0.042},{"t":1983,"v":0.039},{"t":1989,"v":0.097},{"t":1997,"v":0.079},{"t":2007,"v":0.056},{"t":2017,"v":0.042},{"t":2027,"v":0.135},{"t":2034,"v":0.108},{"t":2042,"v":0.094},{"t":2052,"v":0.064},{"t":2061,"v":0.079},{"t":2071,"v":0.064},{"t":2081,"v":0.042},{"t":2091,"v":0.042},{"t":2101,"v":0.037},{"t":2111,"v":0.042},{"t":2120,"v":0.037},{"t":2128,"v":0.064},{"t":2135,"v":0.071},{"t":2142,"v":0.086},{"t":2148,"v":0.108},{"t":2155,"v":0.086},{"t":2165,"v":0.064},{"t":2175,"v":0.042},{"t":2182,"v":0.034},{"t":2187,"v":0.079},{"t":2194,"v":0.086},{"t":2201,"v":0.086},{"t":2207,"v":0.131},{"t":2214,"v":0.146},{"t":2221,"v":0.108},{"t":2229,"v":0.086},{"t":2239,"v":0.064},{"t":2248,"v":0.049},{"t":2256,"v":0.116},{"t":2263,"v":0.153},{"t":2270,"v":0.209},{"t":2276,"v":0.146},{"t":2283,"v":0.302},{"t":2288,"v":0.334},{"t":2293,"v":0.309},{"t":2298,"v":0.242},{"t":2304,"v":0.19},{"t":2308,"v":0.242},{"t":2314,"v":0.175},{"t":2319,"v":0.138},{"t":2327,"v":0.116},{"t":2337,"v":0.086},{"t":2347,"v":0.079},{"t":2352,"v":0.101},{"t":2362,"v":0.086},{"t":2372,"v":0.071},{"t":2379,"v":0.108},{"t":2386,"v":0.094},{"t":2394,"v":0.131},{"t":2401,"v":0.101},{"t":2411,"v":0.071},{"t":2418,"v":0.052},{"t":2424,"v":0.138},{"t":2429,"v":0.198},{"t":2434,"v":0.175},{"t":2439,"v":0.168},{"t":2443,"v":0.391},{"t":2446,"v":0.331},{"t":2448,"v":1.044},{"t":2450,"v":0.806},{"t":2453,"v":1.014},{"t":2456,"v":0.925},{"t":2459,"v":1.155},{"t":2462,"v":0.985},{"t":2465,"v":0.717},{"t":2470,"v":0.554},{"t":2475,"v":0.45},{"t":2480,"v":0.331},{"t":2485,"v":0.257},{"t":2490,"v":0.183},{"t":2495,"v":0.22},{"t":2500,"v":0.175},{"t":2505,"v":0.227},{"t":2510,"v":0.331},{"t":2514,"v":0.339},{"t":2519,"v":0.257},{"t":2524,"v":0.168},{"t":2530,"v":0.138},{"t":2536,"v":0.116},{"t":2542,"v":0.101},{"t":2547,"v":0.198},{"t":2552,"v":0.242},{"t":2556,"v":0.175},{"t":2562,"v":0.264},{"t":2566,"v":0.227},{"t":2572,"v":0.183},{"t":2576,"v":0.19},{"t":2581,"v":0.16},{"t":2586,"v":0.2},{"t":2593,"v":0.19},{"t":2600,"v":0.168}
    ]
  },
  "bounds": "flush",
  "spacing": 92.5,
  "vconcat": [
    {
      "width": 880, "height": 293,
      "title": {"text": "Log Returns of R/Pound Exchange Rate", "offset": 12.2},
      "layer": [
        {
          "data": {"name": "ret"},
          "mark": {"type": "line", "color": "#0000ff", "strokeWidth": 0.9},
          "encoding": {
            "x": {"field": "t", "type": "quantitative", "scale": {"domain": [0, 2600], "nice": false, "zero": false},
                  "axis": {"orient": "bottom", "values": [0, 520, 1040, 1560, 2080, 2600], "title": "Dates", "labelPadding": 17, "titlePadding": 7,
                           "labelExpr": "['24-May-1999','25-May-2001','26-May-2003','23-May-2005','22-May-2007','20-May-2009'][round(datum.value/520)]"}},
            "y": {"field": "r", "type": "quantitative", "scale": {"domain": [-0.0602, 0.0953], "nice": false, "zero": false},
                  "axis": {"orient": "left", "values": [-0.06, -0.04, -0.02, 0, 0.02, 0.04, 0.06, 0.08], "title": "Log Returns", "grid": true, "titleFontSize": 16.5, "titlePadding": 5,
                           "labelExpr": "(datum.value < 0 ? '-' : '') + format(abs(datum.value), '.2~f')"}}
          }
        },
        {
          "data": {"values": [{}]},
          "mark": {"type": "rule", "color": "#000000", "strokeWidth": 1},
          "encoding": {
            "x": {"datum": 0, "type": "quantitative", "axis": {"orient": "top", "values": [0, 520, 1040, 1560, 2080, 2600], "labels": false, "title": null}},
            "x2": {"datum": 2600},
            "y": {"datum": 0, "type": "quantitative", "axis": {"orient": "right", "values": [-0.06, -0.04, -0.02, 0, 0.02, 0.04, 0.06, 0.08], "labels": false, "title": null}}
          }
        }
      ],
      "resolve": {"axis": {"x": "independent", "y": "independent"}}
    },
    {
      "bounds": "flush",
      "spacing": 101.3,
      "vconcat": [
        {
          "width": 880, "height": 279,
          "title": {"text": "O-GARCH Estimate of the Variance of R/Pound Exchange Rate", "offset": -12.1},
          "layer": [
            {
              "data": {"name": "garch"},
              "mark": {"type": "line", "color": "#0000ff", "strokeWidth": 1},
              "encoding": {
                "x": {"field": "t", "type": "quantitative", "scale": {"domain": [0, 2600], "nice": false, "zero": false},
                      "axis": {"orient": "bottom", "values": [0, 520, 1040, 1560, 2080, 2600], "title": "Dates",
                               "labelExpr": "['24-May-1999','25-May-2001','26-May-2003','23-May-2005','22-May-2007','20-May-2009'][round(datum.value/520)]"}},
                "y": {"field": "v", "type": "quantitative", "scale": {"domain": [0, 1.3], "nice": false, "zero": false},
                      "axis": {"orient": "left", "values": [0, 0.2, 0.4, 0.6, 0.8, 1, 1.2], "title": "Variance Estimate", "grid": true,
                               "labelExpr": "format(datum.value, '.1~f')"}}
              }
            },
            {
              "data": {"values": [{}]},
              "mark": {"type": "text", "text": "x 10", "align": "left", "baseline": "alphabetic", "dy": -9.5, "fontSize": 15},
              "encoding": {
                "x": {"datum": 0, "type": "quantitative", "axis": {"orient": "top", "values": [0, 520, 1040, 1560, 2080, 2600], "labels": false, "title": null}},
                "y": {"datum": 1.3, "type": "quantitative", "axis": {"orient": "right", "values": [0, 0.2, 0.4, 0.6, 0.8, 1, 1.2], "labels": false, "title": null}}
              }
            },
            {
              "data": {"values": [{}]},
              "mark": {"type": "text", "text": "-3", "align": "left", "baseline": "alphabetic", "dx": 29, "dy": -19.5, "fontSize": 10},
              "encoding": {
                "x": {"datum": 0, "type": "quantitative", "axis": null},
                "y": {"datum": 1.3, "type": "quantitative", "axis": null}
              }
            }
          ],
          "resolve": {"axis": {"x": "independent", "y": "independent"}}
        },
        {
          "bounds": "flush",
          "spacing": 98.3,
          "vconcat": [
            {
              "width": 880, "height": 280,
              "title": {"text": "O-EWMA Estimate of the Variance of R/Pound Exchange Rate", "offset": -11.7},
              "layer": [
                {
                  "data": {"name": "ewma"},
                  "mark": {"type": "line", "color": "#0000ff", "strokeWidth": 1},
                  "encoding": {
                    "x": {"field": "t", "type": "quantitative", "scale": {"domain": [0, 2600], "nice": false, "zero": false},
                          "axis": {"orient": "bottom", "values": [0, 520, 1040, 1560, 2080, 2600], "title": "Dates",
                                   "labelExpr": "['24-May-1999','25-May-2001','26-May-2003','23-May-2005','22-May-2007','20-May-2009'][round(datum.value/520)]"}},
                    "y": {"field": "v", "type": "quantitative", "scale": {"domain": [0, 1.286], "nice": false, "zero": false},
                          "axis": {"orient": "left", "values": [0, 0.2, 0.4, 0.6, 0.8, 1, 1.2], "title": "Variance Estimate", "grid": true,
                                   "labelExpr": "format(datum.value, '.1~f')"}}
                  }
                },
                {
                  "data": {"values": [{}]},
                  "mark": {"type": "text", "text": "x 10", "align": "left", "baseline": "alphabetic", "dy": -9.5, "fontSize": 15},
                  "encoding": {
                    "x": {"datum": 0, "type": "quantitative", "axis": {"orient": "top", "values": [0, 520, 1040, 1560, 2080, 2600], "labels": false, "title": null}},
                    "y": {"datum": 1.286, "type": "quantitative", "axis": {"orient": "right", "values": [0, 0.2, 0.4, 0.6, 0.8, 1, 1.2], "labels": false, "title": null}}
                  }
                },
                {
                  "data": {"values": [{}]},
                  "mark": {"type": "text", "text": "-3", "align": "left", "baseline": "alphabetic", "dx": 29, "dy": -19.5, "fontSize": 10},
                  "encoding": {
                    "x": {"datum": 0, "type": "quantitative", "axis": null},
                    "y": {"datum": 1.286, "type": "quantitative", "axis": null}
                  }
                }
              ],
              "resolve": {"axis": {"x": "independent", "y": "independent"}}
            },
            {
              "width": 880, "height": 285,
              "title": {"text": "O-SV Estimate of the Variance of the Log Returns of R/Pound Exchange Rate", "offset": -13.6},
              "layer": [
                {
                  "data": {"name": "sv"},
                  "mark": {"type": "line", "color": "#0000ff", "strokeWidth": 1},
                  "encoding": {
                    "x": {"field": "t", "type": "quantitative", "scale": {"domain": [0, 2600], "nice": false, "zero": false},
                          "axis": {"orient": "bottom", "values": [0, 520, 1040, 1560, 2080, 2600], "title": "Dates",
                                   "labelExpr": "['24-May-1999','25-May-2001','26-May-2003','23-May-2005','22-May-2007','20-May-2009'][round(datum.value/520)]"}},
                    "y": {"field": "v", "type": "quantitative", "scale": {"domain": [0, 1.27], "nice": false, "zero": false},
                          "axis": {"orient": "left", "values": [0, 0.2, 0.4, 0.6, 0.8, 1, 1.2], "title": "Variance Estimate", "grid": true,
                                   "labelExpr": "format(datum.value, '.1~f')"}}
                  }
                },
                {
                  "data": {"values": [{}]},
                  "mark": {"type": "text", "text": "x 10", "align": "left", "baseline": "alphabetic", "dy": -9.5, "fontSize": 15},
                  "encoding": {
                    "x": {"datum": 0, "type": "quantitative", "axis": {"orient": "top", "values": [0, 520, 1040, 1560, 2080, 2600], "labels": false, "title": null}},
                    "y": {"datum": 1.27, "type": "quantitative", "axis": {"orient": "right", "values": [0, 0.2, 0.4, 0.6, 0.8, 1, 1.2], "labels": false, "title": null}}
                  }
                },
                {
                  "data": {"values": [{}]},
                  "mark": {"type": "text", "text": "-3", "align": "left", "baseline": "alphabetic", "dx": 29, "dy": -19.5, "fontSize": 10},
                  "encoding": {
                    "x": {"datum": 0, "type": "quantitative", "axis": null},
                    "y": {"datum": 1.27, "type": "quantitative", "axis": null}
                  }
                }
              ],
              "resolve": {"axis": {"x": "independent", "y": "independent"}}
            }
          ]
        }
      ]
    }
  ]
}
